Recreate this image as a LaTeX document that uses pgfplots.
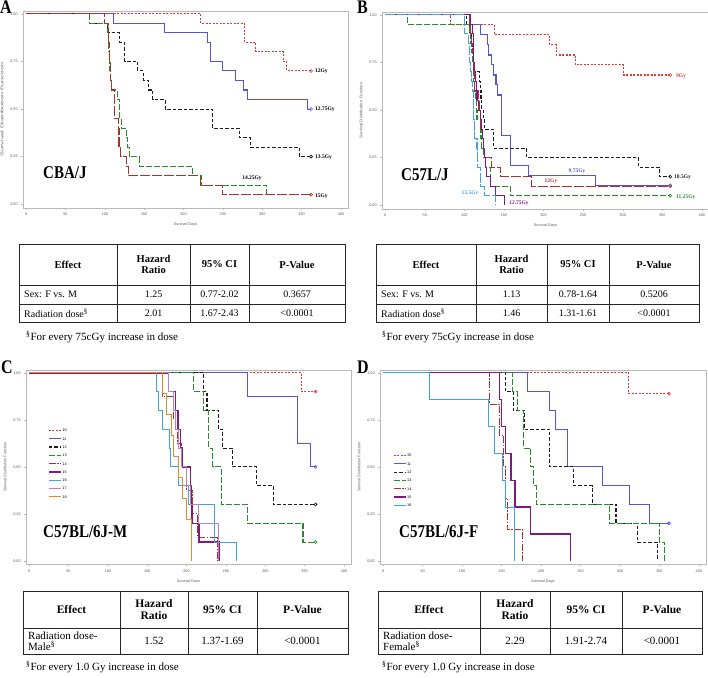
\documentclass[border=0pt]{standalone}
\usepackage{pgfplots}
\pgfplotsset{compat=1.18}
\usepackage{fontspec}
\setmainfont{Liberation Serif}
\newfontfamily\sasfont{Liberation Sans}
\newcommand\tickfont{\sasfont\fontsize{3.8}{4}\selectfont}
\newcommand\cfont{\fontsize{5.5}{6}\selectfont\bfseries}
\newcommand\strainfont{\fontsize{15}{16}\selectfont\bfseries}
\newcommand\letterfont{\fontsize{16}{16}\selectfont\bfseries}
\newcommand\tall[1]{\scalebox{1}[1.2]{#1}}
\definecolor{cred}{RGB}{232,55,55}
\definecolor{cblue}{RGB}{85,85,215}
\definecolor{cblack}{RGB}{30,30,30}
\definecolor{cgreen}{RGB}{40,140,40}
\definecolor{cbrown}{RGB}{170,50,45}
\definecolor{cpurple}{RGB}{130,25,130}
\definecolor{clblue}{RGB}{70,160,230}
\definecolor{cmauve}{RGB}{185,130,185}
\definecolor{corange}{RGB}{225,140,40}
\pgfplotsset{km/.style={
  scale only axis, xmin=-4, xmax=409, ymin=-0.02, ymax=1.015,
  axis line style={draw=gray!55, line width=0.7pt},
  xtick={0,50,...,400}, ytick={0,0.25,0.5,0.75,1},
  yticklabels={0.00,0.25,0.50,0.75,1.00},
  xtick pos=bottom, ytick pos=left,
  tick align=outside, major tick length=1.8pt,
  tick style={gray!55, line width=0.4pt},
  ticklabel style={font=\tickfont, text=black!65},
  /pgf/number format/assume math mode=true,
  xlabel={Survival Days}, ylabel={Survival Distribution Function},
  label style={font=\tickfont, text=black!65},
  every axis plot/.append style={line width=1.05pt, const plot},
  clip=false,
  legend image code/.code={\draw[#1,sharp plot] plot coordinates {(0pt,0pt) (12pt,0pt)};},
  legend cell align=left,
},
cens/.style={only marks, mark=o, mark size=1.5pt, line width=0.6pt, forget plot, mark options={solid}},
sred/.style={cred, dash pattern=on 2pt off 1.5pt},
sblack/.style={cblack, dash pattern=on 3.5pt off 2pt},
sgreen/.style={cgreen, dash pattern=on 6pt off 2pt},
sbrown/.style={cbrown, dash pattern=on 10pt off 2pt},
sbrowndd/.style={cbrown, dash pattern=on 7pt off 1.5pt on 1.5pt off 1.5pt},
slblue/.style={clblue, dash pattern=on 10pt off 1.5pt},
}
\begin{document}
\begin{tikzpicture}
\path[use as bounding box] (0pt,0pt) rectangle (708pt,-677pt);

% ---------------- Panel A ----------------
\begin{axis}[km, at={(23pt,-208pt)}, anchor=south west, width=325pt, height=197pt,
  ylabel={\scalebox{1.9}[1]{Survival Distribution Function}}]
\addplot[sred] coordinates {(0,1)(222,0.95)(278,0.85)(292,0.80)(327,0.75)(331,0.70)(362,0.70)};
\addplot[cens, cred] coordinates {(362,0.70)};
\addplot[cblue] coordinates {(0,1)(111,0.95)(176,0.90)(231,0.85)(234,0.75)(249,0.70)(266,0.65)(276,0.60)(281,0.55)(358,0.50)(362,0.50)};
\addplot[cens, cblue] coordinates {(362,0.50)};
\addplot[sblack] coordinates {(0,1)(80,0.95)(103,0.90)(119,0.85)(125,0.75)(142,0.70)(149,0.65)(156,0.60)(161,0.55)(177,0.50)(237,0.40)(271,0.35)(285,0.30)(347,0.25)(362,0.25)};
\addplot[cens, cblack] coordinates {(362,0.25)};
\addplot[sgreen] coordinates {(0,1)(81,0.95)(104,0.90)(105,0.80)(106,0.70)(107,0.65)(108,0.60)(116,0.55)(119,0.45)(121,0.40)(127,0.35)(129,0.30)(131,0.25)(144,0.20)(211,0.15)(223,0.10)(306,0.05)};
\addplot[sbrown] coordinates {(0,1)(100,0.95)(105,0.85)(106,0.75)(107,0.65)(108,0.60)(112,0.45)(117,0.40)(118,0.30)(120,0.25)(127,0.20)(130,0.15)(221,0.10)(249,0.05)(362,0.05)};
\addplot[cens, cbrown] coordinates {(362,0.05)};
\end{axis}

% ---------------- Panel B ----------------
\begin{axis}[km, at={(382pt,-209pt)}, anchor=south west, width=327pt, height=197pt,
  ylabel={\scalebox{1.15}[1]{Survival Distribution Function}}]
\addplot[sred] coordinates {(0,1)(82,0.95)(138,0.895)(208,0.842)(216,0.789)(240,0.737)(301,0.684)(360,0.684)};
\addplot[cens, cred] coordinates {(360,0.684)};
\addplot[cblue] coordinates {(0,1)(107,0.947)(120,0.895)(129,0.842)(131,0.789)(134,0.737)(137,0.684)(140,0.632)(142,0.579)(147,0.368)(158,0.211)(181,0.158)(266,0.105)(360,0.105)};
\addplot[cens, cblue] coordinates {(360,0.105)};
\addplot[sblack] coordinates {(0,1)(103,0.95)(107,0.90)(109,0.85)(110,0.80)(111,0.75)(112,0.70)(119,0.65)(120,0.60)(121,0.55)(122,0.50)(124,0.45)(125,0.40)(137,0.30)(179,0.25)(320,0.20)(347,0.15)(360,0.15)};
\addplot[cens, cblack] coordinates {(360,0.15)};
\addplot[sgreen] coordinates {(0,1)(28,0.95)(107,0.90)(108,0.85)(109,0.80)(110,0.75)(111,0.70)(112,0.65)(113,0.60)(114,0.55)(115,0.50)(116,0.45)(120,0.40)(121,0.35)(122,0.30)(124,0.25)(127,0.20)(133,0.10)(158,0.05)(360,0.05)};
\addplot[cens, cgreen] coordinates {(360,0.05)};
\addplot[sbrown] coordinates {(0,1)(107,0.95)(108,0.90)(109,0.85)(110,0.80)(111,0.75)(112,0.70)(113,0.60)(118,0.55)(119,0.50)(120,0.45)(121,0.40)(123,0.35)(124,0.30)(126,0.25)(134,0.20)(146,0.15)(185,0.10)(360,0.10)};
\addplot[cens, cbrown] coordinates {(360,0.10)};
\addplot[cpurple] coordinates {(0,1)(108,0.95)(110,0.90)(111,0.80)(112,0.75)(113,0.70)(114,0.65)(115,0.60)(116,0.55)(118,0.50)(120,0.45)(122,0.40)(123,0.35)(124,0.30)(126,0.25)(127,0.20)(128,0.15)(133,0.10)(139,0.05)(151,0)};
\addplot[slblue] coordinates {(0,1)(100,0.90)(105,0.85)(106,0.80)(107,0.75)(108,0.70)(109,0.65)(110,0.60)(111,0.50)(112,0.45)(113,0.35)(116,0.30)(117,0.20)(120,0.10)(125,0.05)(139,0)};
\end{axis}

% ---------------- Panel C ----------------
\begin{axis}[km, at={(26pt,-564.6pt)}, anchor=south west, width=325pt, height=194.6pt,
  legend style={at={(0.068,0.702)}, anchor=north west, draw=none, fill=none, font=\tickfont,
    row sep=3.9pt, inner sep=0pt, nodes={inner sep=0.7pt, text height=2.9pt, text depth=0.1pt}}]
\addplot[sred] coordinates {(0,1)(346,0.90)(364,0.90)};
\addplot[cblue] coordinates {(0,1)(278,0.875)(341,0.625)(357,0.50)(364,0.50)};
\addplot[sblack] coordinates {(0,1)(222,0.90)(226,0.80)(241,0.70)(246,0.60)(258,0.50)(289,0.40)(310,0.30)(364,0.30)};
\addplot[sgreen] coordinates {(0,1)(209,0.90)(222,0.80)(228,0.60)(233,0.50)(244,0.30)(277,0.20)(348,0.10)(364,0.10)};
\addplot[sbrowndd] coordinates {(0,1)(169,0.875)(184,0.75)(188,0.625)(193,0.50)(200,0.375)(207,0.25)(214,0.125)(240,0)};
\addplot[cpurple, line width=1.4pt] coordinates {(0,1)(177,0.9)(186,0.8)(189,0.7)(192,0.6)(195,0.5)(205,0.4)(206,0.3)(207,0.2)(216,0.1)(241,0)};
\addplot[clblue] coordinates {(0,1)(162,0.90)(164,0.80)(169,0.70)(178,0.60)(180,0.50)(190,0.40)(202,0.30)(235,0.10)(264,0)};
\addplot[cmauve] coordinates {(0,1)(177,0.90)(183,0.80)(186,0.70)(190,0.60)(194,0.50)(200,0.40)(205,0.30)(215,0.20)(241,0)};
\addplot[corange] coordinates {(0,1)(169,0.889)(175,0.778)(181,0.667)(184,0.556)(190,0.444)(195,0.333)(200,0.222)(206,0)};
\addplot[cens, cred] coordinates {(364,0.90)};
\addplot[cens, cblue] coordinates {(364,0.50)};
\addplot[cens, cblack] coordinates {(364,0.30)};
\addplot[cens, cgreen] coordinates {(364,0.10)};
\legend{10,11,12,13,14,15,16,17,18}
\end{axis}

% ---------------- Panel D ----------------
\begin{axis}[km, at={(380pt,-564.6pt)}, anchor=south west, width=326pt, height=194.6pt,
  legend style={at={(0.04,0.573)}, anchor=north west, draw=none, fill=none, font=\tickfont,
    row sep=3.9pt, inner sep=0pt, nodes={inner sep=0.7pt, text height=2.9pt, text depth=0.1pt}}]
\addplot[sred] coordinates {(0,1)(311,0.889)(362,0.889)};
\addplot[cblue] coordinates {(0,1)(183,0.90)(211,0.80)(218,0.70)(233,0.50)(278,0.40)(312,0.30)(338,0.20)(362,0.20)};
\addplot[sblack] coordinates {(0,1)(155,0.90)(165,0.80)(179,0.70)(211,0.50)(241,0.40)(265,0.30)(295,0.20)(322,0.10)(347,0)};
\addplot[sgreen] coordinates {(0,1)(164,0.90)(170,0.80)(178,0.60)(187,0.50)(191,0.40)(194,0.30)(287,0.20)(350,0.10)(357,0)};
\addplot[sbrowndd] coordinates {(0,1)(135,0.833)(147,0.667)(153,0.50)(155,0.333)(157,0.167)(177,0)};
\addplot[cpurple, line width=1.2pt] coordinates {(0,1)(147,0.857)(150,0.714)(155,0.571)(162,0.429)(167,0.286)(187,0.143)(237,0)};
\addplot[clblue] coordinates {(0,1)(59,0.857)(134,0.714)(141,0.571)(151,0.429)(155,0.286)(166,0)};
\addplot[cens, cred] coordinates {(362,0.889)};
\addplot[cens, cblue] coordinates {(362,0.20)};
\legend{10,11,12,13,14,15,16}
\end{axis}

% ---------------- Text and tables ----------------
\begin{scope}[x=1pt, y=-1pt]
% panel letters
\node[anchor=north west, inner sep=0pt, font=\letterfont] at (0,1) {\tall{A}};
\node[anchor=north west, inner sep=0pt, font=\letterfont] at (357,1) {\tall{B}};
\node[anchor=north west, inner sep=0pt, font=\letterfont] at (1,361) {\tall{C}};
\node[anchor=north west, inner sep=0pt, font=\letterfont] at (357,361) {\tall{D}};
% strain names
\node[anchor=west, inner sep=0pt, font=\strainfont] at (43,173) {\tall{CBA/J}};
\node[anchor=west, inner sep=0pt, font=\strainfont] at (401,175) {\tall{C57L/J}};
\node[anchor=west, inner sep=0pt, font=\strainfont] at (43,532) {\tall{C57BL/6J-M}};
\node[anchor=west, inner sep=0pt, font=\strainfont] at (399,532) {\tall{C57BL/6J-F}};
% curve labels A
\node[anchor=west, inner sep=0pt, font=\cfont] at (315,71) {12Gy};
\node[anchor=west, inner sep=0pt, font=\cfont] at (315,109) {12.75Gy};
\node[anchor=west, inner sep=0pt, font=\cfont] at (315,157) {13.5Gy};
\node[inner sep=0pt, font=\cfont] at (252,178) {14.25Gy};
\node[anchor=west, inner sep=0pt, font=\cfont] at (315,196) {15Gy};
% curve labels B
\node[anchor=west, inner sep=0pt, font=\cfont, text=cred] at (676,76) {9Gy};
\node[anchor=west, inner sep=0pt, font=\cfont, text=cblack] at (674,177) {10.5Gy};
\node[anchor=west, inner sep=0pt, font=\cfont, text=cgreen] at (676,197) {11.25Gy};
\node[inner sep=0pt, font=\cfont, text=cblue] at (577,171) {9.75Gy};
\node[inner sep=0pt, font=\cfont, text=cbrown] at (551,181) {12Gy};
\node[inner sep=0pt, font=\cfont, text=clblue] at (470,193) {13.5Gy};
\node[inner sep=0pt, font=\cfont, text=cpurple] at (519,203) {12.75Gy};

% ---- Table A ----
\begin{scope}[line width=0.7pt, draw=black!85]
\draw (19,244) rectangle (345,322);
\draw (19,285) -- (345,285); \draw (19,304) -- (345,304);
\draw (117,244) -- (117,322); \draw (190,244) -- (190,322); \draw (249,244) -- (249,322);
\end{scope}
\begin{scope}[every node/.style={inner sep=0pt, font=\fontsize{10}{10.5}\selectfont}]
\node[font=\fontsize{10.5}{11}\selectfont\bfseries] at (68,264.5) {Effect};
\node[font=\fontsize{10.5}{11}\selectfont\bfseries, align=center] at (153.5,264.5) {Hazard\\Ratio};
\node[font=\fontsize{10.5}{11}\selectfont\bfseries] at (219.5,264.5) {95\% CI};
\node[font=\fontsize{10.5}{11}\selectfont\bfseries] at (297,264.5) {P-Value};
\node[anchor=west] at (24,294.5) {Sex: F vs. M};
\node at (153.5,294.5) {1.25};
\node at (219.5,294.5) {0.77-2.02};
\node at (297,294.5) {0.3657};
\node[anchor=west] at (24,313) {Radiation dose\textsuperscript{\S}};
\node at (153.5,313) {2.01};
\node at (219.5,313) {1.67-2.43};
\node at (297,313) {<0.0001};
\node[anchor=west, font=\fontsize{11}{12}\selectfont] at (26,337) {\textsuperscript{\S}For every 75cGy increase in dose};
\end{scope}

% ---- Table B ----
\begin{scope}[line width=0.7pt, draw=black!85]
\draw (376,244) rectangle (699,322);
\draw (376,285) -- (699,285); \draw (376,304) -- (699,304);
\draw (476,244) -- (476,322); \draw (547,244) -- (547,322); \draw (609,244) -- (609,322);
\end{scope}
\begin{scope}[every node/.style={inner sep=0pt, font=\fontsize{10}{10.5}\selectfont}]
\node[font=\fontsize{10.5}{11}\selectfont\bfseries] at (426,264.5) {Effect};
\node[font=\fontsize{10.5}{11}\selectfont\bfseries, align=center] at (511.5,264.5) {Hazard\\Ratio};
\node[font=\fontsize{10.5}{11}\selectfont\bfseries] at (578,264.5) {95\% CI};
\node[font=\fontsize{10.5}{11}\selectfont\bfseries] at (654,264.5) {P-Value};
\node[anchor=west] at (381,294.5) {Sex: F vs. M};
\node at (511.5,294.5) {1.13};
\node at (578,294.5) {0.78-1.64};
\node at (654,294.5) {0.5206};
\node[anchor=west] at (381,313) {Radiation dose\textsuperscript{\S}};
\node at (511.5,313) {1.46};
\node at (578,313) {1.31-1.61};
\node at (654,313) {<0.0001};
\node[anchor=west, font=\fontsize{11}{12}\selectfont] at (382,337) {\textsuperscript{\S}For every 75cGy increase in dose};
\end{scope}

% ---- Table C ----
\begin{scope}[line width=0.7pt, draw=black!85]
\draw (23,591) rectangle (348,654);
\draw (23,628) -- (348,628);
\draw (120,591) -- (120,654); \draw (188,591) -- (188,654); \draw (257,591) -- (257,654);
\end{scope}
\begin{scope}[every node/.style={inner sep=0pt, font=\fontsize{11}{11.5}\selectfont}]
\node[font=\fontsize{11.5}{12}\selectfont\bfseries] at (71.5,609.5) {Effect};
\node[font=\fontsize{11.5}{11.5}\selectfont\bfseries, align=center] at (154,609.5) {Hazard\\Ratio};
\node[font=\fontsize{11.5}{12}\selectfont\bfseries] at (222.5,609.5) {95\% CI};
\node[font=\fontsize{11.5}{12}\selectfont\bfseries] at (302.5,609.5) {P-Value};
\node[anchor=west, align=left] at (28,641) {Radiation dose-\\Male\textsuperscript{\S}};
\node at (154,641) {1.52};
\node at (222.5,641) {1.37-1.69};
\node at (302.5,641) {<0.0001};
\node[anchor=west, font=\fontsize{11}{12}\selectfont] at (26,667) {\textsuperscript{\S}For every 1.0 Gy increase in dose};
\end{scope}

% ---- Table D ----
\begin{scope}[line width=0.7pt, draw=black!85]
\draw (378,591) rectangle (702,654);
\draw (378,628) -- (702,628);
\draw (480,591) -- (480,654); \draw (550,591) -- (550,654); \draw (622,591) -- (622,654);
\end{scope}
\begin{scope}[every node/.style={inner sep=0pt, font=\fontsize{11}{11.5}\selectfont}]
\node[font=\fontsize{11.5}{12}\selectfont\bfseries] at (429,609.5) {Effect};
\node[font=\fontsize{11.5}{11.5}\selectfont\bfseries, align=center] at (515,609.5) {Hazard\\Ratio};
\node[font=\fontsize{11.5}{12}\selectfont\bfseries] at (586,609.5) {95\% CI};
\node[font=\fontsize{11.5}{12}\selectfont\bfseries] at (662,609.5) {P-Value};
\node[anchor=west, align=left] at (383,641) {Radiation dose-\\Female\textsuperscript{\S}};
\node at (515,641) {2.29};
\node at (586,641) {1.91-2.74};
\node at (662,641) {<0.0001};
\node[anchor=west, font=\fontsize{11}{12}\selectfont] at (382,667) {\textsuperscript{\S}For every 1.0 Gy increase in dose};
\end{scope}
\end{scope}
\end{tikzpicture}
\end{document}
